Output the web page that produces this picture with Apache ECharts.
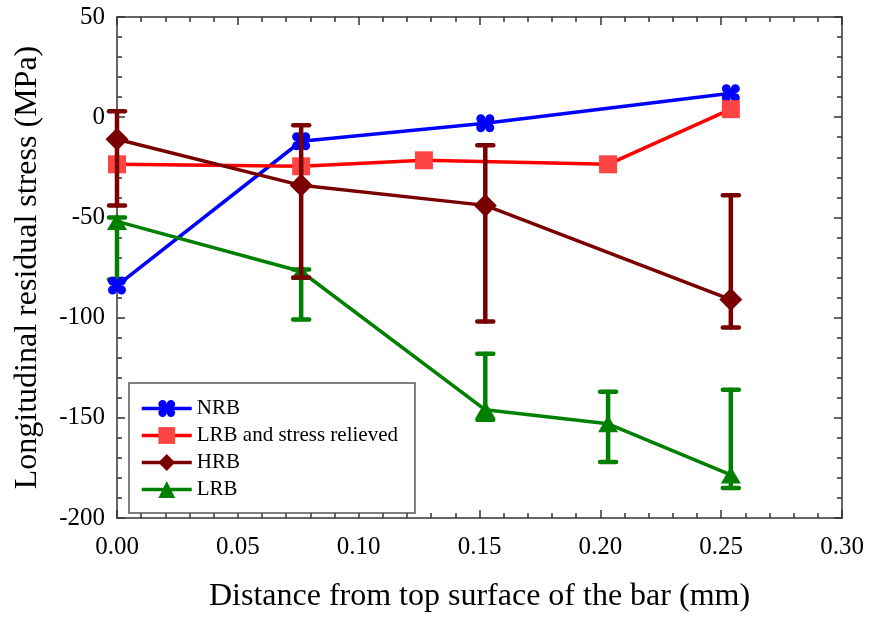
<!DOCTYPE html>
<html>
<head>
<meta charset="utf-8">
<script src="https://cdn.jsdelivr.net/npm/echarts@6/dist/echarts.min.js"></script>
<style>
  html, body { margin: 0; padding: 0; background: #fff; }
  #chart { width: 869px; height: 618px; }
</style>
</head>
<body>
<div id="chart"></div>
<script>
// Depth below the top surface (mm)
const nrbX = [0, 0.0762, 0.1524, 0.254];
const nrbY = [-84, -12, -3, 12];

const lrbSrX = [0, 0.0762, 0.127, 0.2032, 0.254];
const lrbSrY = [-23.5, -24.5, -21.5, -23.5, 4];

const hrbX = [0, 0.0762, 0.1524, 0.254];
const hrbY = [-11, -34, -44, -91];
const hrbHigh = [3, -4, -14, -39];
const hrbLow = [-44, -80, -102, -105];

const lrbX = [0, 0.0762, 0.1524, 0.2032, 0.254];
const lrbY = [-52, -77, -146, -153, -178.5];
const lrbHigh = [-50, -76, -118, -137, -136];
const lrbLow = [-81, -101, -151, -172, -185];

const seriesNames = ['NRB', 'LRB and stress relieved', 'HRB', 'LRB'];

const FONT = '"Liberation Serif", "DejaVu Serif", serif';

function pairs(xs, ys) { return xs.map((x, i) => [x, ys[i]]); }
function errRows(xs, hi, lo) { return xs.map((x, i) => [x, hi[i], lo[i]]); }

// Four overlapping discs forming the NRB marker
const cloverPath = 'path://M0,5a5,5 0 1,1 10,0a5,5 0 1,1 -10,0Z' +
  'M10,5a5,5 0 1,1 10,0a5,5 0 1,1 -10,0Z' +
  'M0,15a5,5 0 1,1 10,0a5,5 0 1,1 -10,0Z' +
  'M10,15a5,5 0 1,1 10,0a5,5 0 1,1 -10,0Z' +
  'M5,5L15,5L15,15L5,15Z';

function errorBarSeries(rows, color, z) {
  return {
    type: 'custom',
    z: z,
    silent: true,
    data: rows,
    encode: { x: 0, y: [1, 2] },
    renderItem: function (params, api) {
      const x = api.value(0);
      const top = api.coord([x, api.value(1)]);
      const bot = api.coord([x, api.value(2)]);
      const half = 8;
      const style = { stroke: color, lineWidth: 4.5, lineCap: 'round' };
      return {
        type: 'group',
        children: [
          { type: 'line', shape: { x1: top[0], y1: top[1], x2: bot[0], y2: bot[1] }, style: style },
          { type: 'line', shape: { x1: top[0] - half, y1: top[1], x2: top[0] + half, y2: top[1] }, style: style },
          { type: 'line', shape: { x1: bot[0] - half, y1: bot[1], x2: bot[0] + half, y2: bot[1] }, style: style }
        ]
      };
    }
  };
}

const axisLineStyle = { color: '#333', width: 1.5 };

const chart = echarts.init(document.getElementById('chart'), null, { renderer: 'canvas' });

chart.setOption({
  animation: false,
  backgroundColor: '#fff',
  textStyle: { fontFamily: FONT },
  grid: { left: 117, right: 27, top: 17, bottom: 95 },
  legend: {
    data: seriesNames,
    orient: 'vertical',
    left: 129,
    top: 383,
    itemWidth: 50,
    itemHeight: 21,
    itemGap: 6,
    padding: [15, 17, 13, 11],
    backgroundColor: '#fff',
    borderColor: '#555',
    borderWidth: 1.5,
    lineStyle: { width: 3.5 },
    textStyle: { fontFamily: FONT, fontSize: 21, color: '#000' }
  },
  xAxis: [
    {
      type: 'value', min: 0, max: 0.3, interval: 0.05,
      position: 'bottom',
      name: 'Distance from top surface of the bar (mm)',
      nameLocation: 'middle', nameGap: 63,
      nameTextStyle: { fontFamily: FONT, fontSize: 32, color: '#000' },
      axisLine: { show: true, onZero: false, lineStyle: axisLineStyle },
      axisTick: { show: true, inside: true, length: 8, lineStyle: axisLineStyle },
      minorTick: { show: true, splitNumber: 5, length: 5, lineStyle: axisLineStyle },
      axisLabel: { fontFamily: FONT, fontSize: 25, color: '#000', margin: 17,
        formatter: v => v.toFixed(2) },
      splitLine: { show: false }
    },
    {
      type: 'value', min: 0, max: 0.3, interval: 0.05,
      position: 'top',
      axisLine: { show: true, onZero: false, lineStyle: axisLineStyle },
      axisTick: { show: true, inside: true, length: 8, lineStyle: axisLineStyle },
      minorTick: { show: true, splitNumber: 5, length: 5, lineStyle: axisLineStyle },
      axisLabel: { show: false },
      splitLine: { show: false }
    }
  ],
  yAxis: [
    {
      type: 'value', min: -200, max: 50, interval: 50,
      position: 'left',
      name: 'Longitudinal residual stress (MPa)',
      nameLocation: 'middle', nameGap: 73,
      nameTextStyle: { fontFamily: FONT, fontSize: 32, color: '#000' },
      axisLine: { show: true, onZero: false, lineStyle: axisLineStyle },
      axisTick: { show: true, inside: true, length: 8, lineStyle: axisLineStyle },
      minorTick: { show: true, splitNumber: 5, length: 5, lineStyle: axisLineStyle },
      axisLabel: { fontFamily: FONT, fontSize: 25, color: '#000', margin: 12 },
      splitLine: { show: false }
    },
    {
      type: 'value', min: -200, max: 50, interval: 50,
      position: 'right',
      axisLine: { show: true, onZero: false, lineStyle: axisLineStyle },
      axisTick: { show: true, inside: true, length: 8, lineStyle: axisLineStyle },
      minorTick: { show: true, splitNumber: 5, length: 5, lineStyle: axisLineStyle },
      axisLabel: { show: false },
      splitLine: { show: false }
    }
  ],
  series: [
    {
      name: 'NRB', type: 'line', z: 3,
      data: pairs(nrbX, nrbY),
      symbol: cloverPath, symbolSize: 18, showAllSymbol: true,
      lineStyle: { color: '#0000ff', width: 3.5 },
      itemStyle: { color: '#0000ff' }
    },
    {
      name: 'LRB and stress relieved', type: 'line', z: 3,
      data: pairs(lrbSrX, lrbSrY),
      symbol: 'rect', symbolSize: 18, showAllSymbol: true,
      lineStyle: { color: '#ff0000', width: 3.5 },
      itemStyle: { color: '#ff4444' }
    },
    {
      name: 'HRB', type: 'line', z: 3,
      data: pairs(hrbX, hrbY),
      symbol: 'diamond', symbolSize: [23, 23], showAllSymbol: true,
      lineStyle: { color: '#7a0000', width: 3.5 },
      itemStyle: { color: '#7a0000' }
    },
    {
      name: 'LRB', type: 'line', z: 3,
      data: pairs(lrbX, lrbY),
      symbol: 'triangle', symbolSize: [20, 17], showAllSymbol: true,
      lineStyle: { color: '#008000', width: 3.5 },
      itemStyle: { color: '#008000' }
    },
    errorBarSeries(errRows(lrbX, lrbHigh, lrbLow), '#008000', 3),
    errorBarSeries(errRows(hrbX, hrbHigh, hrbLow), '#7a0000', 4)
  ]
});
</script>
</body>
</html>
